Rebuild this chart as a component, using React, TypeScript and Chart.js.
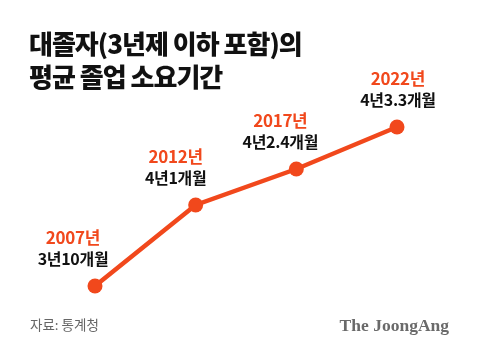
import React, { useEffect, useRef } from "react";
import { Chart, registerables } from "chart.js";

Chart.register(...registerables);

// Survey years and average time to graduate (labels as printed)
const years = ["2007년", "2012년", "2017년", "2022년"];
const durations = ["3년10개월", "4년1개월", "4년2.4개월", "4년3.3개월"];
// Plotted heights as read from the graphic (the original is not drawn to scale)
const plotHeights = [14, 95, 131, 173];

const titleLines = ["대졸자(3년제 이하 포함)의", "평균 졸업 소요기간"];
const sourceText = "자료: 통계청";
const brandText = "The JoongAng";

const ORANGE = "#f1481c";
const KR = '"Noto Sans CJK KR", "Noto Sans", sans-serif';

export default function App() {
  const ref = useRef<HTMLCanvasElement>(null);

  useEffect(() => {
    if (!ref.current) return;
    const labelOffsets = [-22, -20, -16, 1];
    const textPlugin = {
      id: "texts",
      afterDraw(chart: any) {
        const ctx = chart.ctx as CanvasRenderingContext2D;
        ctx.save();
        // title
        ctx.fillStyle = "#111111";
        ctx.textAlign = "left";
        ctx.textBaseline = "middle";
        ctx.font = `900 26px ${KR}`;
        (ctx as any).letterSpacing = "-1px";
        ctx.fillText(titleLines[0], 29, 44);
        ctx.fillText(titleLines[1], 29, 77);
        (ctx as any).letterSpacing = "0px";
        // point labels
        const meta = chart.getDatasetMeta(0);
        meta.data.forEach((pt: any, i: number) => {
          const x = pt.x + labelOffsets[i];
          ctx.textAlign = "center";
          ctx.fillStyle = ORANGE;
          ctx.font = `700 17px ${KR}`;
          (ctx as any).letterSpacing = "-0.3px";
          ctx.fillText(years[i], x, pt.y - 48);
          ctx.fillStyle = "#111111";
          ctx.font = `700 16px ${KR}`;
          ctx.fillText(durations[i], x, pt.y - 27);
        });
        (ctx as any).letterSpacing = "0px";
        // footer
        ctx.textAlign = "left";
        ctx.fillStyle = "#666666";
        ctx.font = `400 13.5px ${KR}`;
        ctx.fillText(sourceText, 30, 325);
        ctx.textAlign = "right";
        ctx.fillStyle = "#6a6a6a";
        ctx.font = `700 17.5px "Liberation Serif", "DejaVu Serif", serif`;
        ctx.fillText(brandText, 449, 326);
        ctx.restore();
      },
    };

    const chart = new Chart(ref.current, {
      type: "line",
      data: {
        labels: years,
        datasets: [
          {
            data: plotHeights,
            borderColor: ORANGE,
            backgroundColor: ORANGE,
            borderWidth: 4.5,
            pointRadius: 7.5,
            pointHoverRadius: 7.5,
            pointBorderWidth: 0,
            pointBackgroundColor: ORANGE,
            tension: 0,
            clip: false as any,
          },
        ],
      },
      options: {
        responsive: false,
        animation: false,
        events: [],
        layout: { padding: { left: 95, right: 83, top: 100, bottom: 54 } },
        plugins: {
          legend: { display: false },
          title: { display: false },
          tooltip: { enabled: false },
        },
        scales: {
          x: { display: false, offset: false },
          y: { display: false, min: 0, max: 200 },
        },
      },
      plugins: [textPlugin],
    });
    return () => chart.destroy();
  }, []);

  return (
    <div style={{ position: "fixed", left: 0, top: 0, width: 480, height: 354, background: "#ffffff" }}>
      <canvas ref={ref} width={480} height={354} />
    </div>
  );
}
